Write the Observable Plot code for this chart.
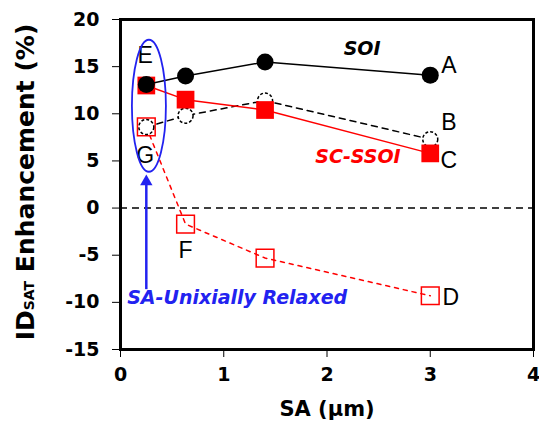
<!DOCTYPE html>
<html><head><meta charset="utf-8">
<script src="https://cdn.jsdelivr.net/npm/d3@7"></script>
<script src="https://cdn.jsdelivr.net/npm/@observablehq/plot@0.6"></script>
<style>body{margin:0;background:#fff}</style>
</head><body><div id="chart"></div>
<script>
// SA (µm) positions
const sa = [0.25, 0.63, 1.4, 3.0];
// IDSAT enhancement (%)
const soi = [13.1, 14.0, 15.5, 14.1];          // A (filled circles)
const soiRelaxed = [8.6, 9.8, 11.4, 7.3];      // B (open circles, dashed)
const scSsoi = [13.0, 11.5, 10.4, 5.8];        // C (filled squares)
const scSsoiRelaxed = [8.6, -1.7, -5.3, -9.3]; // D (open squares, dashed)

const xTicks = [0, 1, 2, 3, 4];
const yTicks = [-15, -10, -5, 0, 5, 10, 15, 20];

const letters = ["A", "B", "C", "D", "E", "F", "G"];
const letterX = [3.18, 3.18, 3.18, 3.2, 0.24, 0.63, 0.24];
const letterY = [15.1, 9.1, 5.0, -9.5, 16.2, -4.5, 5.6];

const seriesNames = ["SOI", "SC-SSOI", "SA-Unixially Relaxed"];
const seriesNameX = [2.34, 2.3, 1.13];
const seriesNameY = [16.9, 5.4, -9.5];

const mk = arr => sa.map((x, i) => ({x, y: arr[i]}));
const A = mk(soi), B = mk(soiRelaxed), C = mk(scSsoi), D = mk(scSsoiRelaxed);
const lbl = letters.map((t, i) => ({t, x: letterX[i], y: letterY[i]}));
const names = seriesNames.map((t, i) => ({t, x: seriesNameX[i], y: seriesNameY[i]}));

const RED = "#ff0000", BLUE = "#2222f0";
const font = "DejaVu Sans, Verdana, sans-serif";

const plot = Plot.plot({
  width: 539, height: 436,
  marginLeft: 120, marginRight: 6, marginTop: 19, marginBottom: 87,
  style: {fontFamily: font, fontSize: "19px", fontWeight: "bold", color: "black", background: "white"},
  x: {domain: [0, 4], ticks: xTicks, tickSize: 8, tickPadding: 10, tickFormat: d => `${d}`, label: null},
  y: {domain: [-15, 20], ticks: yTicks, tickSize: 8, tickPadding: 13, tickFormat: d => `${d}`, label: null},
  marks: [
    Plot.ruleY([0], {stroke: "black", strokeWidth: 1.5, strokeDasharray: "7,5"}),
    // arrow (SA-uniaxially relaxed)
    Plot.link([{x: 0.25, y1: -8.6, y2: 2.5}], {x1: "x", x2: "x", y1: "y1", y2: "y2", stroke: BLUE, strokeWidth: 2.5}),
    Plot.dot([{x: 0.25, y: 2.8}], {x: "x", y: "y", symbol: "triangle", r: 4.6, fill: BLUE}),
    // D
    Plot.line(D, {x: "x", y: "y", stroke: RED, strokeWidth: 1.5, strokeDasharray: "4,5"}),
    Plot.dot(D, {x: "x", y: "y", symbol: "square", r: 10, fill: "none", stroke: RED, strokeWidth: 1.5}),
    // B
    Plot.line(B, {x: "x", y: "y", stroke: "black", strokeWidth: 1.5, strokeDasharray: "6,5"}),
    Plot.dot(B, {x: "x", y: "y", r: 7.5, fill: "white", stroke: "black", strokeWidth: 1.5, strokeDasharray: "3,2"}),
    // C
    Plot.line(C, {x: "x", y: "y", stroke: RED, strokeWidth: 1.5}),
    Plot.dot(C, {x: "x", y: "y", symbol: "square", r: 10, fill: RED}),
    // A
    Plot.line(A, {x: "x", y: "y", stroke: "black", strokeWidth: 1.5}),
    Plot.dot(A, {x: "x", y: "y", r: 8.5, fill: "black"}),
    // letters
    Plot.text(lbl, {x: "x", y: "y", text: "t", fontFamily: "Liberation Sans, Arial, sans-serif", fontWeight: "normal", fontSize: 23, fill: "black"}),
    // series names
    Plot.text(names, {x: "x", y: "y", text: "t", fontStyle: "italic", fontWeight: "bold", fontSize: 19,
      fill: ["black", RED, BLUE]}),
    Plot.text(["SA (µm)"], {frameAnchor: "bottom", dy: 66, text: d => d, fontSize: 21, fontWeight: "bold"}),
    Plot.frame({stroke: "black", strokeWidth: 3})
  ]
});

const svg = d3.select(plot);
const xs = plot.scale("x"), ys = plot.scale("y");
// blue ellipse around E/G
svg.append("ellipse")
  .attr("cx", xs.apply(0.28)).attr("cy", ys.apply(10.8))
  .attr("rx", 17).attr("ry", 66)
  .attr("fill", "none").attr("stroke", BLUE).attr("stroke-width", 1.8);
// y label with subscript
const yl = svg.append("text")
  .attr("transform", "translate(34,182) rotate(-90)")
  .attr("text-anchor", "middle")
  .attr("font-size", 25).attr("font-weight", "bold").attr("fill", "black");
yl.append("tspan").text("ID");
yl.append("tspan").attr("font-size", 14).text("SAT");
yl.append("tspan").text(" Enhancement (%)");

document.getElementById("chart").append(plot);
</script>
</body></html>
